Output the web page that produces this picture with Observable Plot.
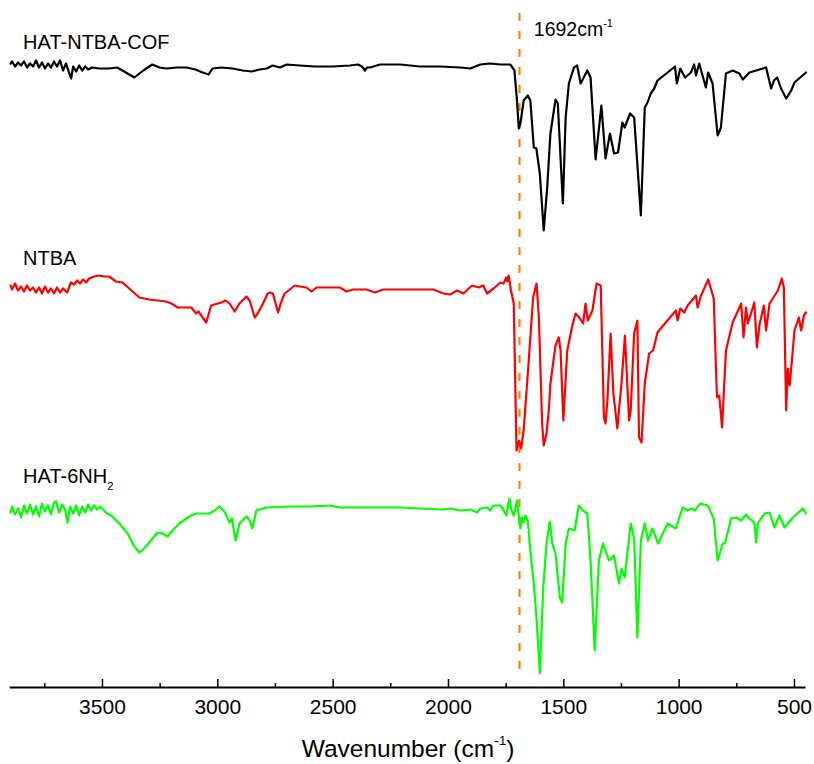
<!DOCTYPE html>
<html><head><meta charset="utf-8">
<script src="https://cdn.jsdelivr.net/npm/d3@7"></script>
<script src="https://cdn.jsdelivr.net/npm/@observablehq/plot@0.6"></script>
<style>body{margin:0;background:#fff;}</style>
</head><body><div id="chart"></div>
<script>
// [wavenumber (cm-1), transmittance (a.u.)]
const cofSpectrum = [[3898,102],[3892,104],[3879,99],[3866,103],[3853,100],[3840,104],[3827,98],[3814,102],[3801,99],[3788,105],[3775,98],[3762,103],[3749,97],[3736,102],[3723,98],[3710,104],[3697,99],[3684,105],[3671,95],[3658,102],[3645,93],[3636,87],[3627,99],[3614,94],[3601,100],[3588,95],[3575,99],[3562,96],[3545,98],[3514,97],[3471,97],[3436,98],[3406,94],[3362,88],[3323,95],[3284,101],[3253,98],[3223,97],[3179,98],[3136,98],[3097,96],[3066,93],[3040,91],[3023,97],[2984,98],[2936,97],[2892,95],[2853,94],[2819,96],[2788,97],[2762,100],[2731,98],[2701,101],[2645,100],[2579,99],[2501,99],[2427,100],[2392,101],[2375,99],[2362,95],[2353,98],[2340,98],[2297,101],[2210,101],[2123,99],[2036,99],[1949,98],[1905,97],[1862,101],[1819,102],[1775,101],[1732,101],[1714,95],[1703,65],[1695,37],[1688,42],[1674,65],[1656,70],[1645,65],[1630,18],[1619,17],[1604,-8],[1587,-65],[1572,-22],[1558,32],[1536,66],[1526,62],[1504,-38],[1492,48],[1478,82],[1456,98],[1442,100],[1427,82],[1398,95],[1384,88],[1362,6],[1337,60],[1319,7],[1300,32],[1282,12],[1265,13],[1246,43],[1236,38],[1213,52],[1195,48],[1166,-50],[1149,58],[1137,63],[1123,72],[1108,77],[1094,85],[1050,93],[1018,99],[1010,82],[995,97],[974,88],[949,93],[935,101],[927,90],[913,102],[884,78],[874,93],[855,82],[833,30],[819,38],[797,92],[768,95],[739,92],[724,86],[695,93],[623,98],[601,77],[589,85],[575,88],[558,77],[536,67],[514,75],[500,83],[450,93]];

const ntbaSpectrum = [[3898,104],[3892,100],[3879,106],[3866,99],[3853,103],[3840,98],[3827,104],[3814,99],[3801,102],[3788,97],[3775,102],[3762,96],[3749,103],[3736,97],[3723,101],[3710,96],[3697,102],[3684,97],[3671,101],[3653,97],[3637,107],[3623,105],[3610,109],[3597,106],[3584,110],[3571,107],[3558,111],[3536,113],[3514,114],[3493,113],[3471,113],[3442,108],[3413,107],[3384,101],[3340,92],[3297,90],[3224,88],[3201,86],[3174,82],[3115,82],[3094,76],[3084,78],[3072,74],[3050,67],[3029,84],[2985,87],[2966,89],[2949,86],[2927,78],[2906,86],[2876,93],[2862,89],[2840,72],[2827,76],[2804,86],[2784,96],[2772,97],[2761,96],[2739,77],[2723,89],[2710,96],[2666,104],[2645,103],[2616,102],[2594,98],[2572,102],[2514,102],[2471,102],[2442,98],[2413,100],[2355,100],[2319,97],[2283,100],[2210,100],[2123,100],[2065,100],[2022,96],[1993,95],[1963,99],[1935,96],[1898,104],[1869,102],[1849,104],[1833,96],[1804,101],[1775,107],[1762,106],[1749,112],[1745,108],[1739,114],[1729,99],[1717,86],[1705,-61],[1694,-51],[1685,-59],[1674,-41],[1652,29],[1633,92],[1618,106],[1608,72],[1594,-34],[1587,-56],[1575,-44],[1565,-21],[1558,6],[1536,44],[1522,52],[1514,39],[1502,-31],[1485,39],[1463,64],[1449,76],[1430,71],[1416,66],[1406,86],[1396,69],[1376,79],[1358,106],[1340,104],[1326,-28],[1319,-34],[1311,-11],[1297,56],[1285,-4],[1268,-39],[1250,6],[1235,54],[1217,-31],[1210,-21],[1195,56],[1181,69],[1174,-48],[1163,-53],[1149,6],[1130,36],[1113,39],[1094,57],[1058,67],[1014,79],[1007,69],[995,81],[978,77],[963,84],[927,94],[920,82],[905,94],[874,110],[850,91],[836,-8],[826,-6],[814,-38],[797,39],[768,67],[731,86],[721,52],[710,82],[702,66],[674,87],[663,42],[652,64],[633,84],[623,59],[608,86],[572,99],[555,111],[546,102],[536,-21],[529,21],[521,4],[511,29],[500,59],[481,72],[471,59],[459,74],[450,77]];

const hatSpectrum = [[3898,95],[3892,101],[3879,93],[3866,99],[3853,90],[3840,102],[3827,94],[3814,103],[3801,93],[3788,101],[3775,91],[3762,104],[3749,96],[3736,102],[3723,93],[3710,105],[3701,106],[3688,95],[3675,103],[3662,98],[3652,85],[3640,101],[3627,94],[3614,102],[3601,92],[3588,101],[3575,95],[3562,103],[3549,97],[3536,102],[3523,98],[3510,101],[3485,95],[3458,91],[3427,84],[3391,74],[3362,61],[3340,55],[3319,59],[3297,65],[3261,75],[3240,74],[3217,71],[3197,77],[3166,84],[3123,91],[3094,94],[3058,94],[3036,94],[3014,97],[2993,101],[2975,97],[2963,92],[2949,85],[2939,89],[2923,67],[2906,84],[2876,91],[2862,87],[2850,79],[2833,97],[2789,100],[2688,101],[2601,101],[2514,102],[2471,100],[2340,100],[2210,100],[2123,99],[2022,98],[1993,99],[1949,97],[1905,98],[1876,95],[1862,99],[1833,100],[1819,97],[1806,102],[1775,102],[1762,98],[1749,92],[1736,109],[1727,97],[1717,92],[1703,107],[1697,95],[1688,79],[1682,90],[1674,85],[1666,92],[1656,87],[1645,57],[1630,24],[1618,-11],[1604,-66],[1589,20],[1575,64],[1561,86],[1550,64],[1536,54],[1517,10],[1507,5],[1492,64],[1478,79],[1453,77],[1435,102],[1418,97],[1398,94],[1384,47],[1366,-43],[1348,47],[1330,64],[1304,47],[1282,52],[1261,24],[1250,39],[1236,30],[1210,84],[1195,69],[1181,-30],[1166,67],[1149,84],[1135,67],[1116,79],[1091,64],[1050,84],[1014,79],[985,100],[963,97],[946,99],[932,97],[908,104],[876,102],[850,89],[833,47],[811,64],[801,64],[775,89],[753,90],[731,87],[710,93],[695,89],[674,85],[666,65],[659,84],[630,94],[608,95],[587,80],[565,92],[543,80],[507,90],[463,99],[450,94]];

const seriesNames = ["HAT-NTBA-COF", "NTBA", "HAT-6NH_{2}"];
const seriesOffsets = [535, 311, 93];
const markerWavenumbers = [1692];
const markerLabel = "1692cm^{-1}";
const majorTicks = [3500, 3000, 2500, 2000, 1500, 1000, 500];
const minorTicks = [3750, 3250, 2750, 2250, 1750, 1250, 750];
const axisTitle = "Wavenumber (cm^{-1})";

const xDomain = [3900, 450];
const yDomain = [13, 700];
const colors = ["#000000", "#ff0000", "#00ff00"];

const spectra = [cofSpectrum, ntbaSpectrum, hatSpectrum];
const lineMarks = spectra.map((s, i) =>
  Plot.line(s.map(([wn, t]) => ({wn, v: t + seriesOffsets[i]})), {
    x: "wn", y: "v", stroke: colors[i], strokeWidth: 2.2, strokeLinejoin: "round", strokeLinecap: "round"
  })
);

const labelRows = [
  {wn: 3844, v: 652, text: seriesNames[0]},
  {wn: 3844, v: 436, text: seriesNames[1]},
  {wn: 3844, v: 218, text: seriesNames[2]}
];

const plot = Plot.plot({
  width: 814,
  height: 764,
  marginLeft: 9.7,
  marginRight: 8.5,
  marginTop: 0,
  marginBottom: 77,
  style: {background: "#fff", fontFamily: "'Liberation Sans', Arial, Helvetica, sans-serif", fontSize: "21px", color: "#000", overflow: "visible"},
  x: {domain: xDomain},
  y: {domain: yDomain, axis: null},
  marks: [
    Plot.ruleX(markerWavenumbers, {y1: 687, y2: 26, stroke: "#ff7f00", strokeWidth: 2.2, strokeDasharray: "8,10"}),
    ...lineMarks,
    Plot.text(labelRows, {x: "wn", y: "v", text: "text", textAnchor: "start", lineAnchor: "bottom", fontSize: 20, fill: "#000"}),
    Plot.text([{wn: 1630, v: 665, text: markerLabel}], {x: "wn", y: "v", text: "text", textAnchor: "start", lineAnchor: "bottom", fontSize: 19.5, fill: "#000"}),
    Plot.axisX({ticks: minorTicks, tickSize: -4, tickFormat: () => "", strokeWidth: 1.5, label: null}),
    Plot.axisX({ticks: majorTicks, tickSize: -8, tickPadding: 20, strokeWidth: 1.5, label: null, tickFormat: d => String(d), fontSize: 21}),
    Plot.ruleY([yDomain[0]], {strokeWidth: 2}),
    Plot.text([axisTitle], {text: d => d, frameAnchor: "bottom", dy: 69, lineAnchor: "bottom", fontSize: 24.5, fill: "#000"})
  ]
});

document.getElementById("chart").appendChild(plot);

function richify(root) {
  root.querySelectorAll("text").forEach(el => {
    const src = el.textContent;
    if (!/[\^_]\{/.test(src)) return;
    const fs = parseFloat(getComputedStyle(el).fontSize) || 20;
    while (el.firstChild) el.removeChild(el.firstChild);
    const re = /([\^_])\{([^}]*)\}/g;
    let last = 0, cur = 0, m;
    const add = (str, off, size) => {
      const ts = document.createElementNS("http://www.w3.org/2000/svg", "tspan");
      ts.textContent = str;
      ts.setAttribute("dy", (off - cur).toFixed(2));
      if (size) ts.setAttribute("font-size", size.toFixed(1));
      cur = off;
      el.appendChild(ts);
    };
    while ((m = re.exec(src))) {
      if (m.index > last) add(src.slice(last, m.index), 0);
      if (m[1] === "^") add(m[2], -0.45 * fs, 0.56 * fs);
      else add(m[2], 0.35 * fs, 0.56 * fs);
      last = re.lastIndex;
    }
    if (last < src.length) add(src.slice(last), 0);
  });
}
richify(plot);
</script>
</body></html>
